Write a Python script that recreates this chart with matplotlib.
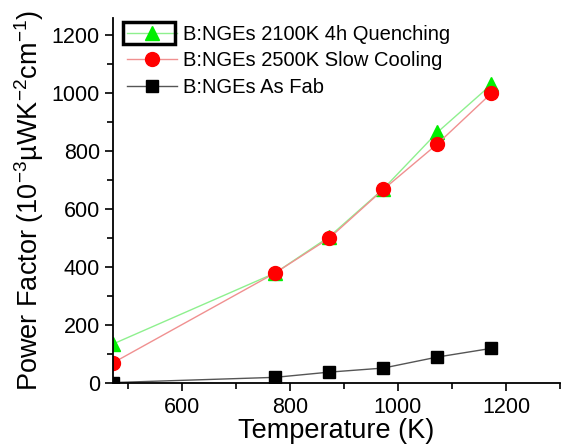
import matplotlib
matplotlib.use("Agg")
import matplotlib.pyplot as plt
from matplotlib.patches import Rectangle
from matplotlib.ticker import MultipleLocator

plt.rcParams['font.family'] = ['Liberation Sans', 'DejaVu Sans']
plt.rcParams['mathtext.fontset'] = 'custom'
plt.rcParams['mathtext.rm'] = 'Liberation Sans'
plt.rcParams['mathtext.it'] = 'Liberation Sans'

# data
temps = [473, 773, 873, 973, 1073, 1173]
pf_quench = [135, 380, 505, 670, 865, 1030]
pf_slow = [70, 380, 500, 668, 825, 1000]
pf_asfab = [2, 20, 38, 52, 90, 120]

fig = plt.figure(figsize=(5.61, 4.45), dpi=100)
ax = fig.add_axes([0.2014, 0.139, 0.797, 0.821])

ax.plot(temps, pf_quench, color='#8ef08e', lw=1, marker='^', ms=10,
        mfc='#00ee00', mec='#00ee00', label='B:NGEs 2100K 4h Quenching')
ax.plot(temps, pf_slow, color='#f09090', lw=1, marker='o', ms=10,
        mfc='#ff0000', mec='#ff0000', label='B:NGEs 2500K Slow Cooling')
ax.plot(temps, pf_asfab, color='#555555', lw=1, marker='s', ms=8,
        mfc='black', mec='black', label='B:NGEs As Fab')

ax.set_xlim(473, 1300)
ax.set_ylim(0, 1260)
ax.xaxis.set_major_locator(MultipleLocator(200))
ax.xaxis.set_minor_locator(MultipleLocator(100))
ax.yaxis.set_major_locator(MultipleLocator(200))
ax.yaxis.set_minor_locator(MultipleLocator(100))
ax.tick_params(which='major', length=6, width=1.2, labelsize=15.5, direction='out')
ax.tick_params(which='minor', length=4, width=1.2, direction='out')
ax.tick_params(axis='x', pad=4)
for s in ['top', 'right']:
    ax.spines[s].set_visible(False)
for s in ['left', 'bottom']:
    ax.spines[s].set_linewidth(1.3)

ax.set_xlabel('Temperature (K)', fontsize=19.5, labelpad=0)
ax.set_ylabel('Power Factor (10$^{-3}$\u00b5WK$^{-2}$cm$^{-1}$)', fontsize=19.5, labelpad=4)

leg = ax.legend(loc='upper left', bbox_to_anchor=(0.0, 1.02), frameon=False,
                fontsize=14.5, handlelength=2.5, handletextpad=0.3,
                labelspacing=0.38, borderaxespad=0.3)

# the thick box round the first legend entry
fig.patches.append(Rectangle((123 / 561, 1 - 44 / 445), 52 / 561, 22 / 445,
                             transform=fig.transFigure, fill=False,
                             lw=2.5, ec='black'))

fig.savefig('out.png', dpi=100)
